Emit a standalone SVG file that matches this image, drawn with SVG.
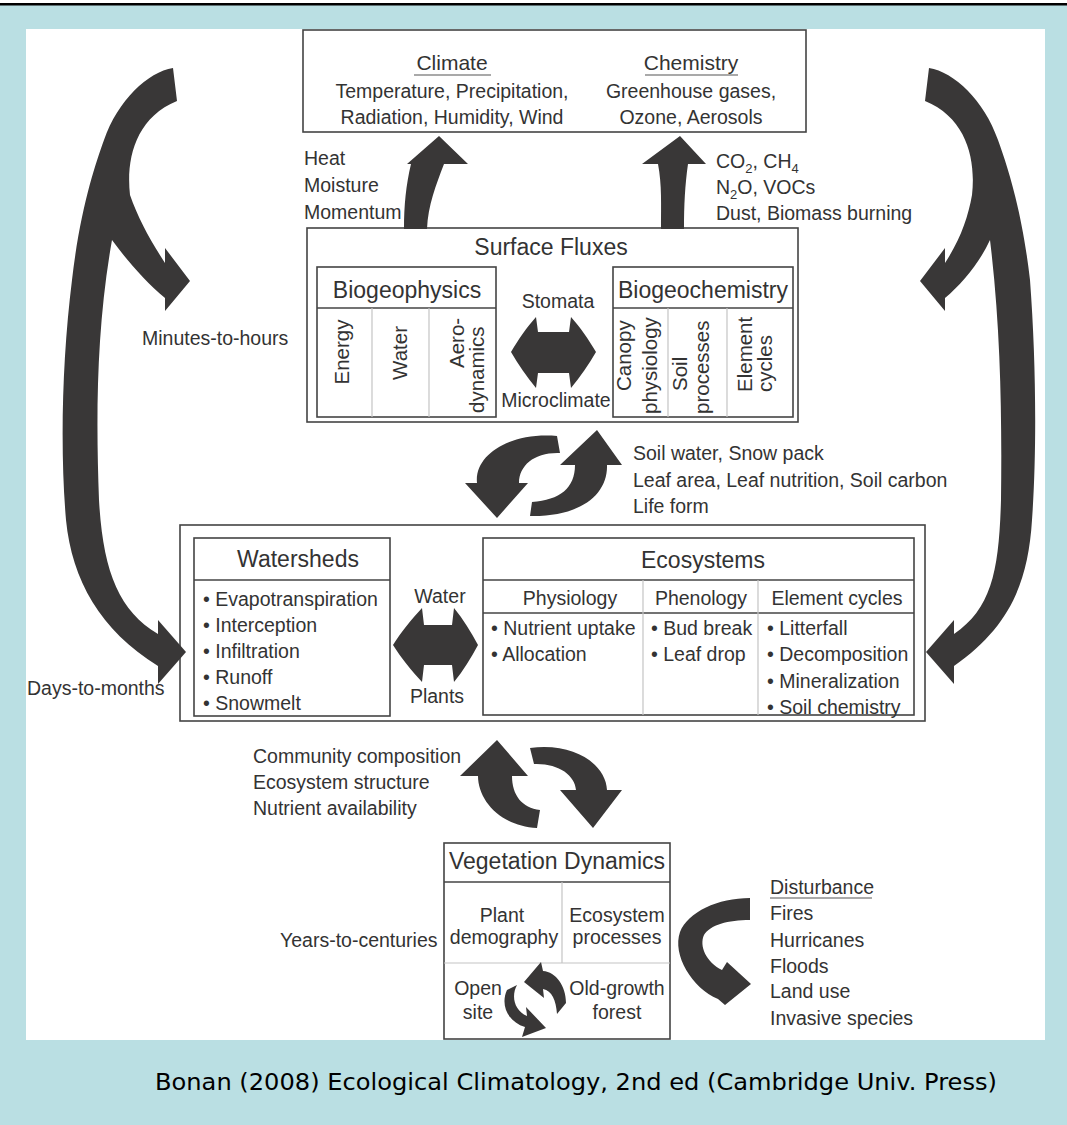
<svg xmlns="http://www.w3.org/2000/svg" width="1067" height="1125" viewBox="0 0 1067 1125">
<style>
text{font-family:"Liberation Sans",Arial,sans-serif;fill:#333;font-size:19.5px}
.h{font-size:23px}
.t{font-size:21px}
.c{text-anchor:middle}
.col{font-size:20.5px;text-anchor:middle}
.cs{font-size:20.5px;text-anchor:start}
.box{fill:#fff;stroke:#444;stroke-width:1.6}
.div{stroke:#c4c4c4;stroke-width:1.2;fill:none}
.hl{stroke:#444;stroke-width:1.6;fill:none}
.arr{fill:#393737}
.ul{stroke:#555;stroke-width:1.2}
</style>
<rect x="0" y="0" width="1067" height="1125" fill="#badfe3"/>
<rect x="0" y="0" width="1067" height="3" fill="#fff"/>
<rect x="0" y="3" width="1067" height="2.5" fill="#000"/>
<rect x="26" y="29" width="1019" height="1011" fill="#fff"/>

<g id="climate-chemistry">
  <rect class="box" x="303" y="30" width="503" height="102"/>
  <text class="c t" x="452" y="70">Climate</text>
  <line class="ul" x1="414" y1="75" x2="491" y2="75"/>
  <text class="c" x="452" y="98">Temperature, Precipitation,</text>
  <text class="c" x="452" y="124">Radiation, Humidity, Wind</text>
  <text class="c t" x="691" y="70">Chemistry</text>
  <line class="ul" x1="645" y1="75" x2="738" y2="75"/>
  <text class="c" x="691" y="98">Greenhouse gases,</text>
  <text class="c" x="691" y="124">Ozone, Aerosols</text>
</g>

<g id="flux-labels">
  <text x="304" y="165">Heat</text>
  <text x="304" y="192">Moisture</text>
  <text x="304" y="219">Momentum</text>
  <text x="716" y="168">CO<tspan font-size="13px" dy="5">2</tspan><tspan dy="-5">, CH</tspan><tspan font-size="13px" dy="5">4</tspan></text>
  <text x="716" y="194">N<tspan font-size="13px" dy="5">2</tspan><tspan dy="-5">O, VOCs</tspan></text>
  <text x="716" y="220">Dust, Biomass burning</text>
</g>

<g id="surface-fluxes">
  <rect class="box" x="307" y="228" width="491" height="194"/>
  <text class="c h" x="551" y="255">Surface Fluxes</text>
  <text class="c" x="558" y="308">Stomata</text>
  <text class="c" x="556" y="407">Microclimate</text>
</g>
<g id="biogeophysics">
  <rect class="box" x="317" y="267" width="179" height="150"/>
  <line class="hl" x1="317" y1="308" x2="496" y2="308"/>
  <line class="div" x1="372" y1="308" x2="372" y2="417"/>
  <line class="div" x1="429" y1="308" x2="429" y2="417"/>
  <text class="c h" x="407" y="298">Biogeophysics</text>
  <text class="col" transform="translate(349,352) rotate(-90)">Energy</text>
  <text class="col" transform="translate(407,353) rotate(-90)">Water</text>
  <text class="cs" transform="translate(464,368) rotate(-90)">Aero-</text>
  <text class="cs" transform="translate(484,413) rotate(-90)">dynamics</text>
</g>
<g id="biogeochemistry">
  <rect class="box" x="613" y="267" width="180" height="150"/>
  <line class="hl" x1="613" y1="308" x2="793" y2="308"/>
  <line class="div" x1="668" y1="308" x2="668" y2="417"/>
  <line class="div" x1="727" y1="308" x2="727" y2="417"/>
  <text class="c h" x="703" y="298">Biogeochemistry</text>
  <text class="cs" transform="translate(631,391) rotate(-90)">Canopy</text>
  <text class="cs" transform="translate(657,414) rotate(-90)">physiology</text>
  <text class="cs" transform="translate(687,391) rotate(-90)">Soil</text>
  <text class="cs" transform="translate(709,414) rotate(-90)">processes</text>
  <text class="cs" transform="translate(752,392) rotate(-90)">Element</text>
  <text class="cs" transform="translate(772,392) rotate(-90)">cycles</text>
</g>

<g id="feedback-labels-1">
  <text x="633" y="460">Soil water, Snow pack</text>
  <text x="633" y="487">Leaf area, Leaf nutrition, Soil carbon</text>
  <text x="633" y="513">Life form</text>
</g>

<g id="land-box">
  <rect class="box" x="180" y="525" width="745" height="196"/>
  <text class="c" x="440" y="603">Water</text>
  <text class="c" x="437" y="703">Plants</text>
</g>
<g id="watersheds">
  <rect class="box" x="194" y="538" width="196" height="178"/>
  <line class="hl" x1="194" y1="580" x2="390" y2="580"/>
  <text class="c h" x="298" y="567">Watersheds</text>
  <text x="203" y="606">• Evapotranspiration</text>
  <text x="203" y="632">• Interception</text>
  <text x="203" y="658">• Infiltration</text>
  <text x="203" y="684">• Runoff</text>
  <text x="203" y="710">• Snowmelt</text>
</g>
<g id="ecosystems">
  <rect class="box" x="483" y="538" width="431" height="177"/>
  <line class="hl" x1="483" y1="580" x2="914" y2="580"/>
  <line class="hl" x1="483" y1="613" x2="914" y2="613"/>
  <line class="div" x1="643" y1="580" x2="643" y2="715"/>
  <line class="div" x1="758" y1="580" x2="758" y2="715"/>
  <text class="c h" x="703" y="568">Ecosystems</text>
  <text class="c" x="570" y="605">Physiology</text>
  <text class="c" x="701" y="605">Phenology</text>
  <text class="c" x="837" y="605">Element cycles</text>
  <text x="491" y="635">• Nutrient uptake</text>
  <text x="491" y="661">• Allocation</text>
  <text x="651" y="635">• Bud break</text>
  <text x="651" y="661">• Leaf drop</text>
  <text x="767" y="635">• Litterfall</text>
  <text x="767" y="661">• Decomposition</text>
  <text x="767" y="688">• Mineralization</text>
  <text x="767" y="714">• Soil chemistry</text>
</g>

<g id="feedback-labels-2">
  <text x="253" y="763">Community composition</text>
  <text x="253" y="789">Ecosystem structure</text>
  <text x="253" y="815">Nutrient availability</text>
</g>

<g id="vegetation-dynamics">
  <rect class="box" x="444" y="843" width="226" height="196"/>
  <line class="hl" x1="444" y1="882" x2="670" y2="882"/>
  <line class="div" x1="444" y1="963" x2="670" y2="963"/>
  <line class="div" x1="562" y1="882" x2="562" y2="963"/>
  <text class="c h" x="557" y="869">Vegetation Dynamics</text>
  <text class="c" x="502" y="922">Plant</text>
  <text class="c" x="504" y="944">demography</text>
  <text class="c" x="617" y="922">Ecosystem</text>
  <text class="c" x="617" y="944">processes</text>
  <text class="c" x="478" y="995">Open</text>
  <text class="c" x="478" y="1019">site</text>
  <text class="c" x="617" y="995">Old-growth</text>
  <text class="c" x="617" y="1019">forest</text>
</g>

<g id="disturbance">
  <text x="770" y="894">Disturbance</text>
  <line class="ul" x1="770" y1="898" x2="872" y2="898"/>
  <text x="770" y="920">Fires</text>
  <text x="770" y="947">Hurricanes</text>
  <text x="770" y="973">Floods</text>
  <text x="770" y="998">Land use</text>
  <text x="770" y="1025">Invasive species</text>
</g>

<g id="timescales">
  <text x="142" y="345">Minutes-to-hours</text>
  <text x="27" y="695">Days-to-months</text>
  <text x="280" y="947">Years-to-centuries</text>
</g>

<g id="connectors">
  <path id="big-left" class="arr" d="M173,68 C148,72 118,100 104,140 C95,165 80,210 72,280 C62,360 60,450 66,520 C72,580 100,630 158,666 L158,684 L186,652 L158,620 L158,634 C118,610 103,570 99,500 C96,420 96,330 112,240 C128,262 146,282 165,298 L165,311 L190,281 L165,248 L165,263 C150,240 138,218 130,195 C126,160 135,118 177,101 Z"/>
  <path id="big-right" class="arr" d="M929,68 C954,72 984,100 998,140 C1007,165 1022,210 1030,280 C1036,360 1037,450 1032,520 C1028,585 1008,628 954,666 L954,684 L926,652 L954,620 L954,634 C992,608 999,570 1001,500 C1002,420 1001,330 990,240 C980,262 962,284 945,298 L945,311 L920,281 L945,248 L945,263 C960,240 968,218 972,195 C976,160 967,118 925,101 Z"/>
  <path id="up-left" class="arr" d="M404,229 C404,205 406,185 411,164 L407,164 L439,136 L468,164 L444,164 C436,185 428,205 427,229 Z"/>
  <path id="up-right" class="arr" d="M661,229 C661,205 662,185 658,164 L642,164 L680,136 L706,164 L688,164 C685,185 684,205 684,229 Z"/>
  <path id="dbl-top" class="arr" d="M511,352 C518,340 527,327 536,317 L538,332 L569,332 L571,317 C580,327 589,340 596,352 C589,364 580,377 571,388 L569,373 L538,373 L536,388 C527,377 518,364 511,352 Z"/>
  <path id="dbl-mid" class="arr" d="M393,645 C401,632 412,619 422,608 L424,625 L452,625 L454,608 C463,619 471,632 478,645 C471,658 463,671 454,682 L452,665 L424,665 L422,682 C412,671 401,658 393,645 Z"/>
  <path id="cyc1-down" class="arr" d="M557,436 C510,432 474,455 477,483 L465,483 L497,518 L528,483 L519,483 C519,465 535,452 560,453 Z"/>
  <path id="cyc1-up" class="arr" d="M597,430 L622,465 L607,465 C608,495 580,517 530,516 L532,502 C560,500 575,488 575,465 L560,465 Z"/>
  <path id="cyc2-up" class="arr" d="M497,740 L528,776 L512,776 C512,795 522,808 540,810 L537,828 C500,826 478,800 478,776 L460,776 Z"/>
  <path id="cyc2-down" class="arr" d="M530,748 C575,742 606,765 607,790 L622,790 L593,828 L560,790 L576,790 C575,775 558,763 534,764 Z"/>
  <path id="disturb" class="arr" d="M750,898 C718,898 688,912 680,932 C672,955 692,988 718,999 L725,1005 L751,984 L727,962 L722,970 C706,962 699,946 704,935 C710,925 728,920 750,920 Z"/>
  <path id="veg-cyc-a" class="arr" d="M524,982 L541,962 L543,971 C556,972 566,986 566,1003 L557,1014 C556,1000 552,991 543,989 L544,998 Z"/>
  <path id="veg-cyc-b" class="arr" d="M517,985 C511,996 514,1010 527,1016 L526,1007 L546,1028 L522,1037 L525,1027 C508,1022 500,1005 507,990 Z"/>
</g>

<text x="155" y="1090" style="font-family:'DejaVu Sans',sans-serif;font-size:23px;fill:#000" textLength="842" lengthAdjust="spacingAndGlyphs">Bonan (2008) Ecological Climatology, 2nd ed (Cambridge Univ. Press)</text>
</svg>
